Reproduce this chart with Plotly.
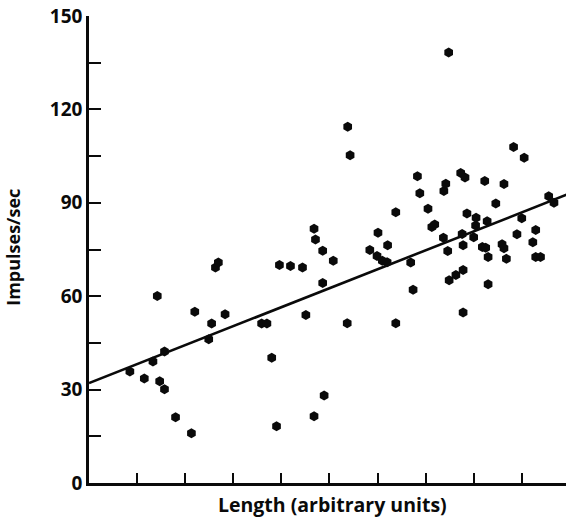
import plotly.graph_objects as go

# Length (arbitrary units; tick spacing = 1) and impulses/sec
length = [0.85, 1.15, 1.33, 1.42, 1.47, 1.57, 1.57, 1.80, 2.13, 2.20,
          2.49, 2.55, 2.63, 2.69, 2.83, 3.59, 3.70, 3.80, 3.90, 3.96,
          4.19, 4.44, 4.51, 4.68, 4.68, 4.71, 4.86, 4.86, 4.89, 5.08,
          5.38, 5.43, 5.37, 5.84, 5.99, 6.10, 6.20, 6.01, 6.21, 6.38,
          6.38, 6.69, 6.74, 6.83, 6.88, 7.05, 7.13, 7.19, 7.37, 7.38,
          7.42, 7.46, 7.48, 7.49, 7.63, 7.78, 7.73, 7.82, 7.76, 7.78,
          7.78, 7.86, 8.00, 8.05, 8.04, 8.18, 8.25, 8.23, 8.28, 8.30,
          8.30, 8.46, 8.59, 8.63, 8.63, 8.68, 8.83, 8.90, 9.00, 9.05,
          9.23, 9.29, 9.29, 9.39, 9.56, 9.67]
impulses = [35.8, 33.6, 39.0, 60.1, 32.7, 30.1, 42.2, 21.1, 16.0, 55.0,
            46.2, 51.2, 69.2, 70.8, 54.2, 51.2, 51.2, 40.2, 18.2, 70.0,
            69.7, 69.2, 54.0, 21.4, 81.7, 78.2, 74.6, 64.2, 28.1, 71.4,
            114.4, 105.3, 51.3, 74.8, 72.9, 71.4, 70.9, 80.4, 76.4, 87.0,
            51.3, 70.8, 62.1, 98.5, 93.1, 88.1, 82.2, 83.0, 78.8, 93.8,
            96.1, 74.5, 138.3, 65.1, 66.8, 68.4, 99.6, 98.1, 80.0, 76.4,
            54.8, 86.6, 78.9, 85.2, 82.7, 75.8, 75.6, 97.0, 84.1, 72.6,
            63.8, 89.8, 76.7, 75.4, 96.0, 72.0, 107.9, 79.9, 85.0, 104.5,
            77.3, 81.3, 72.6, 72.6, 92.1, 90.0]

# Fitted regression line endpoints
fit_x = [0.0, 9.95]
fit_y = [32.1, 92.7]

y_ticks = [0, 30, 60, 90, 120, 150]
y_minor = [15, 45, 75, 105, 135]
x_ticks = [1, 2, 3, 4, 5, 6, 7, 8, 9]

font_fam = "Open Sans"
ink = "#0a0a0a"

fig = go.Figure()
fig.add_trace(go.Scatter(
    x=fit_x, y=fit_y, mode="lines",
    line=dict(color=ink, width=2.6), hoverinfo="skip", showlegend=False,
))
fig.add_trace(go.Scatter(
    x=length, y=impulses, mode="markers",
    marker=dict(symbol="hexagon", size=10, color=ink, line=dict(width=0)),
    showlegend=False,
))

fig.update_layout(
    width=569, height=518,
    margin=dict(l=89, r=3, t=14, b=35),
    paper_bgcolor="white", plot_bgcolor="white",
    font=dict(family=font_fam, color=ink),
    xaxis=dict(
        range=[0, 9.92], tickvals=x_ticks, ticktext=[""] * len(x_ticks),
        ticks="inside", ticklen=10, tickwidth=2.2, tickcolor=ink,
        showline=True, linecolor=ink, linewidth=2.6,
        showgrid=False, zeroline=False,
    ),
    yaxis=dict(
        range=[0, 150], tickvals=y_ticks,
        ticks="inside", ticklen=12, tickwidth=2.2, tickcolor=ink,
        minor=dict(tickvals=y_minor, ticks="inside", ticklen=12,
                   tickwidth=2.2, tickcolor=ink),
        showline=True, linecolor=ink, linewidth=2.6,
        showgrid=False, zeroline=False,
        tickfont=dict(size=19, family=font_fam, weight="bold"),
    ),
    annotations=[
        dict(text="Length (arbitrary units)", xref="paper", yref="paper",
             x=0.51, y=-0.047, xanchor="center", yanchor="middle",
             showarrow=False, font=dict(size=19.5, family=font_fam, weight="bold")),
        dict(text="Impulses/sec", xref="paper", yref="paper",
             x=-0.158, y=0.505, xanchor="center", yanchor="middle", textangle=-90,
             showarrow=False, font=dict(size=18, family=font_fam, weight="bold")),
    ],
)

fig.write_html("out.html")
